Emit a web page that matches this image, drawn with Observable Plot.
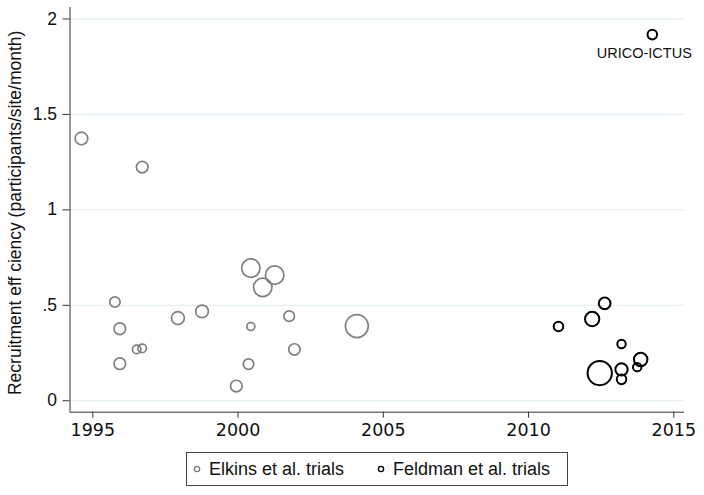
<!DOCTYPE html>
<html><head><meta charset="utf-8">
<script src="https://cdn.jsdelivr.net/npm/d3@7"></script>
<script src="https://cdn.jsdelivr.net/npm/@observablehq/plot@0.6"></script>
<style>
body{margin:0;background:#fff;}
#wrap{position:relative;width:704px;height:495px;overflow:hidden;}
#legend{position:absolute;left:186px;top:452px;width:382px;height:34px;border:1px solid #444;box-sizing:border-box;font-family:"Liberation Sans",Arial,Helvetica,sans-serif;font-size:18px;color:#111;}
.item{position:absolute;top:0;height:32px;display:flex;align-items:center;white-space:nowrap;}
.item svg{margin-right:7px;}
</style>
</head><body>
<div id="wrap"><div id="chart"></div><div id="legend"></div></div>
<script>
const xTicks = [1995, 2000, 2005, 2010, 2015];
const yTicks = [0, 0.5, 1, 1.5, 2];
const yTickLabels = ["0", ".5", "1", "1.5", "2"];
const yTitle = "Recruitment eff ciency (participants/site/month)";
const seriesNames = ["Elkins et al. trials", "Feldman et al. trials"];

const elkinsYear = [1994.61, 1996.70, 1995.76, 1995.93, 1995.93, 1996.51, 1996.70, 1997.93, 1998.76, 1999.94, 2000.44, 2001.26, 2000.85, 2000.44, 2001.76, 2001.94, 2000.36, 2004.09];
const elkinsEff  = [1.374, 1.224, 0.517, 0.377, 0.194, 0.269, 0.274, 0.433, 0.468, 0.077, 0.695, 0.658, 0.594, 0.389, 0.443, 0.269, 0.192, 0.391];
const elkinsSize = [40, 34, 27, 34, 34, 18, 18, 42, 40, 34, 86, 86, 86, 16, 28, 32, 28, 132];

const feldmanYear = [2011.03, 2012.19, 2012.62, 2013.20, 2013.86, 2013.20, 2013.74, 2013.20, 2012.45, 2014.26];
const feldmanEff  = [0.389, 0.428, 0.510, 0.297, 0.216, 0.164, 0.176, 0.112, 0.145, 1.918];
const feldmanSize = [23, 52, 34, 18, 46, 38, 18, 23, 149, 23];
const feldmanName = ["", "", "", "", "", "", "", "", "", "URICO-ICTUS"];

const xDomain = [1994.215, 2015.368];
const yDomain = [-0.06, 2.06];

const elkins = elkinsYear.map((x, i) => ({year: x, eff: elkinsEff[i], size: elkinsSize[i]}));
const feldman = feldmanYear.map((x, i) => ({year: x, eff: feldmanEff[i], size: feldmanSize[i], name: feldmanName[i]}));

const sans = "'Liberation Sans', Arial, Helvetica, sans-serif";

const chart = Plot.plot({
  width: 704, height: 448,
  marginLeft: 69.5, marginRight: 20, marginTop: 7, marginBottom: 36.3,
  x: {domain: xDomain},
  y: {domain: yDomain},
  r: {type: "sqrt", domain: [0, 160], range: [0, 12.6]},
  style: {background: "white", color: "#222"},
  marks: [
    Plot.gridY(yTicks, {stroke: "#dcecee", strokeOpacity: 1}),
    Plot.ruleX([xDomain[0]], {stroke: "#333"}),
    Plot.ruleY([yDomain[0]], {stroke: "#333"}),
    Plot.axisY(yTicks, {tickSize: 7, tickPadding: 6, tickFormat: d => yTickLabels[yTicks.indexOf(d)], fontSize: 17.5, fontFamily: sans, label: null, stroke: "#333", fill: "#111"}),
    Plot.axisX(xTicks, {tickSize: 6, tickPadding: 5, tickFormat: d => String(d), fontSize: 17.5, fontFamily: "'DejaVu Sans', sans-serif", label: null, stroke: "#333", fill: "#111"}),
    Plot.dot(elkins, {x: "year", y: "eff", r: "size", stroke: "#7f7f7f", strokeWidth: 1.7}),
    Plot.dot(feldman, {x: "year", y: "eff", r: "size", stroke: "#000", strokeWidth: 2}),
    Plot.text(feldman.filter(d => d.name), {x: "year", y: "eff", text: "name", dx: -8, dy: 19, fontSize: 14.5, fontFamily: sans, fill: "#111"}),
    Plot.text([yTitle], {frameAnchor: "left", rotate: -90, dx: -55, dy: 3, fontSize: 17.5, fontFamily: sans, fill: "#111", textAnchor: "middle"})
  ]
});
document.getElementById("chart").appendChild(chart);

const legend = document.getElementById("legend");
const legendStyles = [{stroke: "#7f7f7f", left: 5}, {stroke: "#000", left: 189}];
seriesNames.forEach((name, i) => {
  const it = document.createElement("div");
  it.className = "item";
  it.style.left = legendStyles[i].left + "px";
  it.innerHTML = `<svg width="10" height="10"><circle cx="5" cy="5" r="2.6" fill="none" stroke="${legendStyles[i].stroke}" stroke-width="1.4"/></svg><span>${name}</span>`;
  legend.appendChild(it);
});
</script>
</body></html>
